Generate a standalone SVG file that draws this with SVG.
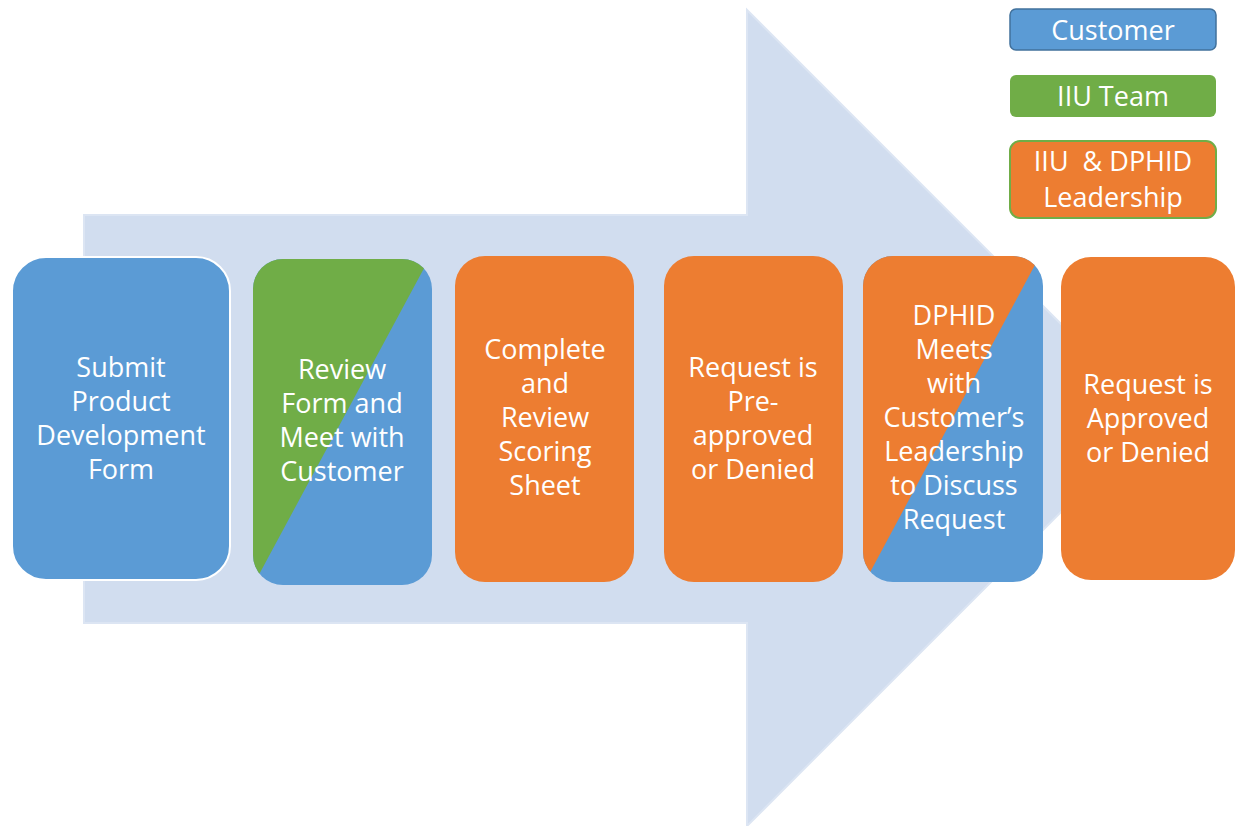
<svg xmlns="http://www.w3.org/2000/svg" width="1235" height="826" viewBox="0 0 1235 826">
<style>
.t{font-family:"Open Sans","Liberation Sans",sans-serif;font-size:27px;fill:#FFFFFF;text-anchor:middle;white-space:pre}
.blue{fill:#5B9BD5}
.green{fill:#70AD47}
.orange{fill:#ED7D31}
</style>
<defs>
<clipPath id="c2"><rect x="253" y="259" width="179" height="326" rx="30"/></clipPath>
<clipPath id="c5"><rect x="863" y="256" width="180" height="326" rx="30"/></clipPath>
</defs>
<rect width="1235" height="826" fill="#FFFFFF"/>
<g id="bigarrow">
<polygon points="84,215 747,215 747,10 1155,418 747,826 747,623 84,623" fill="#D1DDEF" stroke="#DCE5F3" stroke-width="2"/>
</g>
<g id="connectors"></g>
<g id="step1">
<rect x="12" y="257" width="218" height="323" rx="34" class="blue" stroke="#FFFFFF" stroke-width="2"/>
<text class="t"><tspan x="121" y="377">Submit</tspan><tspan x="121" y="411">Product</tspan><tspan x="121" y="445">Development</tspan><tspan x="121" y="479">Form</tspan></text>
</g>
<g id="step2">
<g clip-path="url(#c2)">
<rect x="253" y="259" width="179" height="326" class="blue"/>
<polygon points="253,259 432,259 429,259 255,582 253,585" class="green"/>
</g>
<text class="t"><tspan x="342" y="379">Review</tspan><tspan x="342" y="413">Form and</tspan><tspan x="342" y="447">Meet with</tspan><tspan x="342" y="481">Customer</tspan></text>
</g>
<g id="step3">
<rect x="455" y="256" width="179" height="326" rx="30" class="orange"/>
<text class="t"><tspan x="545" y="359">Complete</tspan><tspan x="545" y="393">and</tspan><tspan x="545" y="427">Review</tspan><tspan x="545" y="461">Scoring</tspan><tspan x="545" y="495">Sheet</tspan></text>
</g>
<g id="step4">
<rect x="664" y="256" width="179" height="326" rx="30" class="orange"/>
<text class="t"><tspan x="753" y="377">Request is</tspan><tspan x="753" y="411">Pre-</tspan><tspan x="753" y="445">approved</tspan><tspan x="753" y="479">or Denied</tspan></text>
</g>
<g id="step5">
<g clip-path="url(#c5)">
<rect x="863" y="256" width="180" height="326" class="blue"/>
<polygon points="863,256 1043,256 1043,250 867,578 863,582" class="orange"/>
</g>
<text class="t"><tspan x="954" y="325">DPHID</tspan><tspan x="954" y="359">Meets</tspan><tspan x="954" y="393">with</tspan><tspan x="954" y="427">Customer’s</tspan><tspan x="954" y="461">Leadership</tspan><tspan x="954" y="495">to Discuss</tspan><tspan x="954" y="529">Request</tspan></text>
</g>
<g id="step6">
<rect x="1061" y="257" width="174" height="323" rx="30" class="orange"/>
<text class="t"><tspan x="1148" y="394">Request is</tspan><tspan x="1148" y="428">Approved</tspan><tspan x="1148" y="462">or Denied</tspan></text>
</g>
<g id="legend-customer">
<rect x="1010" y="9" width="206" height="41" rx="6" class="blue" stroke="#41719C" stroke-width="1.5"/>
<text class="t" x="1113" y="40">Customer</text>
</g>
<g id="legend-iiu">
<rect x="1010" y="75" width="206" height="42" rx="6" class="green"/>
<text class="t" x="1113" y="106">IIU Team</text>
</g>
<g id="legend-leadership">
<rect x="1010" y="141" width="206" height="77" rx="10" class="orange" stroke="#70AD47" stroke-width="2"/>
<text class="t"><tspan x="1113" y="171">IIU  &amp; DPHID</tspan><tspan x="1113" y="207">Leadership</tspan></text>
</g>
</svg>
